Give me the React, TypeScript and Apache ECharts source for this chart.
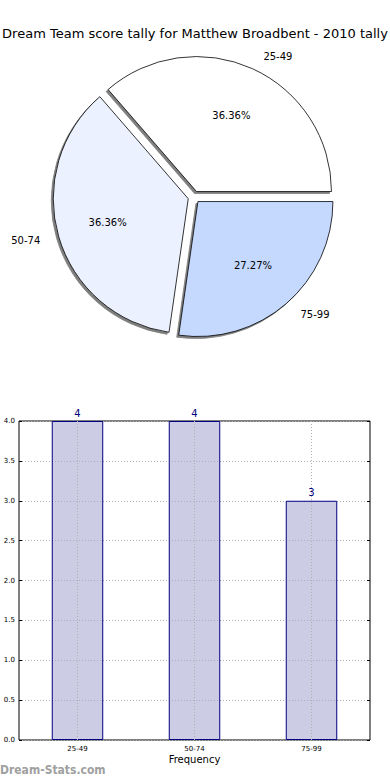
import React, { useEffect, useRef } from "react";
import * as echarts from "echarts";

const titleText = "Dream Team score tally for Matthew Broadbent - 2010 tally";
const categories = ["25-49", "50-74", "75-99"];
const counts = [4, 4, 3];
const pieColors = ["#ffffff", "#ebf1fe", "#c5d9ff"];
const yMin = 0;
const yMax = 4;
const yInterval = 0.5;
const axisName = "Frequency";
const watermark = "Dream-Stats.com";

const FONT = "DejaVu Sans";

export default function App() {
  const ref = useRef<HTMLDivElement>(null);
  useEffect(() => {
    if (!ref.current) return;
    const chart = echarts.init(ref.current, undefined, { renderer: "svg" });
    const R = 135;
    const total = counts.reduce((a, b) => a + b, 0);
    const pieData = categories.map((c, i) => ({
      name: c,
      value: counts[i],
      selected: true,
      itemStyle: { color: pieColors[i] },
    }));
    const common = {
      type: "pie" as const,
      center: [194, 197],
      startAngle: 0,
      clockwise: false,
      selectedMode: "multiple" as const,
      selectedOffset: 6,
      avoidLabelOverlap: false,
      emphasis: { disabled: true },
    };
    chart.setOption({
      animation: false,
      title: {
        text: titleText,
        left: "center",
        top: 22,
        textStyle: { fontFamily: FONT, fontSize: 13, fontWeight: "normal", color: "#000" },
      },
      grid: {
        left: 19,
        right: 20,
        top: 421,
        bottom: 40,
        show: true,
        borderColor: "#000",
        borderWidth: 1,
        backgroundColor: "transparent",
      },
      xAxis: {
        type: "category",
        data: categories,
        z: 10,
        axisLine: { show: false },
        axisTick: { show: false },
        axisLabel: { fontFamily: FONT, fontSize: 7, color: "#000", margin: 5 },
        splitLine: {
          show: true,
          alignWithLabel: true,
          lineStyle: { color: "#b0b0b0", type: [1, 2], width: 1 },
        },
        name: axisName,
        nameLocation: "middle",
        nameGap: 14,
        nameTextStyle: { fontFamily: FONT, fontSize: 10, color: "#000" },
      },
      yAxis: [
        {
          type: "value",
          min: yMin,
          max: yMax,
          interval: yInterval,
          axisLine: { show: false },
          axisTick: { show: true, inside: true, length: 3, lineStyle: { color: "#000" } },
          axisLabel: {
            fontFamily: FONT,
            fontSize: 7,
            color: "#000",
            margin: 4,
            formatter: (v: number) => v.toFixed(1),
          },
          splitLine: { show: true, lineStyle: { color: "#b0b0b0", type: [1, 2], width: 1 } },
        },
        {
          type: "value",
          min: yMin,
          max: yMax,
          interval: yInterval,
          position: "right",
          axisLine: { show: false },
          axisTick: { show: true, inside: true, length: 3, lineStyle: { color: "#000" } },
          axisLabel: { show: false },
          splitLine: { show: false },
        },
      ],
      series: [
        {
          ...common,
          radius: [0, R],
          data: pieData,
          itemStyle: {
            borderColor: "#000",
            borderWidth: 0.8,
            shadowBlur: 1,
            shadowColor: "rgba(0,0,0,0.5)",
            shadowOffsetX: -2,
            shadowOffsetY: 2,
          },
          label: {
            show: true,
            position: "outside",
            formatter: "{b}",
            fontFamily: FONT,
            fontSize: 10,
            color: "#000",
          },
          labelLine: { show: false, length: 14, length2: 0 },
        },
        {
          ...common,
          radius: [0, R * 1.2],
          silent: true,
          z: 5,
          data: pieData.map((d) => ({ ...d, itemStyle: { color: "transparent" } })),
          itemStyle: { color: "transparent", borderWidth: 0 },
          label: {
            show: true,
            position: "inside",
            formatter: (p: any) => ((p.value / total) * 100).toFixed(2) + "%",
            fontFamily: FONT,
            fontSize: 10,
            color: "#000",
          },
          labelLine: { show: false },
        },
        {
          type: "bar",
          data: counts,
          barWidth: "44%",
          itemStyle: { color: "rgba(170,170,210,0.6)", borderColor: "#000080", borderWidth: 1 },
          label: {
            show: true,
            position: "top",
            distance: 3,
            fontFamily: FONT,
            fontSize: 10,
            color: "#000080",
          },
        },
      ],
      graphic: [
        {
          type: "text",
          left: 0,
          top: 764,
          style: {
            text: watermark,
            fontFamily: "DejaVu Sans Condensed",
            fontSize: 12,
            fontWeight: "bold",
            fill: "#a0a0a0",
          },
        },
      ],
    });
    return () => chart.dispose();
  }, []);
  return (
    <div
      ref={ref}
      style={{ position: "fixed", left: 0, top: 0, width: 390, height: 780, background: "#fff" }}
    />
  );
}
